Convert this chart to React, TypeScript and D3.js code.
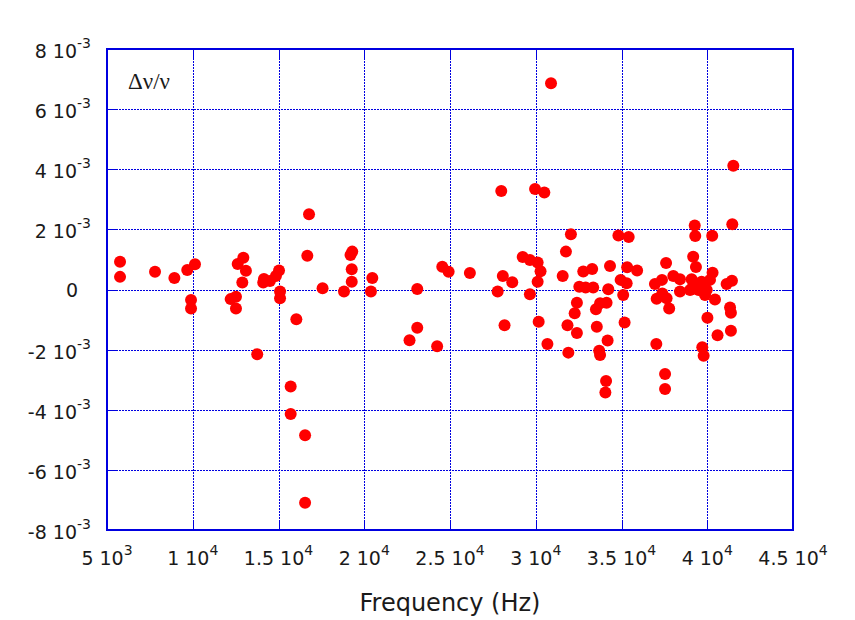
import React from "react";
import * as d3 from "d3";

const freqs: number[] = [
  5760, 5760, 7800, 8930, 9680, 10130, 9900, 9900, 12950, 12620,
  13100, 12890, 12210, 12520, 12520, 14150, 14110, 14500, 14850, 15030,
  15090, 15090, 16040, 16680, 16780, 13760, 15710, 15710, 16550, 16550,
  17570, 18820, 19200, 19300, 19270, 19270, 20470, 20390, 23090, 23090,
  22640, 24250, 24550, 24920, 26160, 28080, 28630, 27780, 29660, 28180,
  30170, 30680, 31850, 32400, 32270, 32400, 31900, 30890, 27990, 29960,
  30500, 32050, 31760, 29240, 29660, 30110, 30280, 30110, 31570, 32770,
  33290, 32540, 32910, 33350, 41520, 41460, 39270, 39300, 40290, 34820,
  35420, 39180, 39340, 37600, 34330, 35330, 35910, 34950, 35300, 34230,
  35100, 34130, 33750, 33510, 33560, 35180, 34190, 33700, 33750, 34100,
  34060, 37030, 37540, 37540, 36950, 37360, 37050, 37380, 37780, 38020,
  38410, 38410, 39090, 39180, 39670, 40160, 40310, 39000, 39490, 39970,
  39870, 40450, 40010, 40600, 39710, 39790, 41130, 41440, 41330, 41380,
  41380, 37630,
];

// values in units of 1e-3
const dnu: number[] = [
  0.92, 0.42, 0.59, 0.38, 0.65, 0.84, -0.35, -0.63, 1.06, 0.85,
  0.62, 0.23, -0.32, -0.24, -0.63, 0.35, 0.23, 0.28, 0.45, 0.63,
  -0.07, -0.29, -0.99, 1.12, 2.5, -2.15, -3.23, -4.14, -4.85, -7.09,
  0.04, -0.07, 1.15, 1.26, 0.67, 0.26, 0.38, -0.07, 0.02, -1.27,
  -1.69, -1.89, 0.76, 0.59, 0.55, 0.45, 0.24, -0.07, -0.16, -1.19,
  -1.07, -1.81, -1.19, -0.44, -0.79, -1.45, -2.1, 6.86, 3.28, 3.34,
  3.23, 1.84, 1.26, 1.08, 0.98, 0.9, 0.61, 0.26, 0.45, 0.6,
  0.68, 0.09, 0.07, 0.07, 4.12, 2.17, 2.13, 1.78, 1.79, 1.8,
  1.75, 1.09, 0.75, 0.88, 0.78, 0.74, 0.63, 0.32, 0.21, 0.01,
  -0.18, -0.44, -0.46, -0.66, -1.24, -1.1, -1.7, -2.04, -2.18, -3.04,
  -3.43, -1.81, -2.81, -3.31, 0.18, 0.32, -0.31, -0.13, -0.63, 0.45,
  0.34, -0.07, 0.34, 0.12, 0.26, 0.32, 0.56, -0.02, -0.02, -0.02,
  -0.18, -0.33, -0.94, -1.52, -1.92, -2.2, 0.18, 0.29, -0.6, -0.77,
  -1.37, -0.29,
];

const xTicks: number[] = [5000, 10000, 15000, 20000, 25000, 30000, 35000, 40000, 45000];
const xTickMant: string[] = ["5", "1", "1.5", "2", "2.5", "3", "3.5", "4", "4.5"];
const xTickExp: string[] = ["3", "4", "4", "4", "4", "4", "4", "4", "4"];
const yTicks: number[] = [-8, -6, -4, -2, 0, 2, 4, 6, 8];

const W = 855;
const H = 620;
const L = 107, R = 793, T = 49, B = 530;
const BLUE = "#0000e0";
const FONT = "'DejaVu Sans', sans-serif";

export default function App() {
  const x = d3.scaleLinear().domain([5000, 45000]).range([L, R]);
  const y = d3.scaleLinear().domain([-8, 8]).range([B, T]);
  const tickLen = 9;
  const px = (v: number) => Math.round(v) + 0.5;

  return (
    <svg width={W} height={H} style={{ position: "absolute", left: 0, top: 0, background: "#fff" }}>
      {/* grid */}
      <g shapeRendering="crispEdges">
        {xTicks.slice(1, -1).map((t) => (
          <line key={"gx" + t} x1={px(x(t))} x2={px(x(t))} y1={T} y2={B} stroke={BLUE} strokeWidth={1} strokeDasharray="2,1" />
        ))}
        {yTicks.slice(1, -1).map((t) => (
          <line key={"gy" + t} x1={L} x2={R} y1={px(y(t))} y2={px(y(t))} stroke={BLUE} strokeWidth={1} strokeDasharray="2,1" />
        ))}
        {/* ticks */}
        {xTicks.map((t) => (
          <g key={"tx" + t}>
            <line x1={px(x(t))} x2={px(x(t))} y1={B} y2={B - tickLen} stroke={BLUE} strokeWidth={1.5} />
            <line x1={px(x(t))} x2={px(x(t))} y1={T} y2={T + tickLen} stroke={BLUE} strokeWidth={1.5} />
          </g>
        ))}
        {yTicks.map((t) => (
          <g key={"ty" + t}>
            <line x1={L} x2={L + tickLen} y1={px(y(t))} y2={px(y(t))} stroke={BLUE} strokeWidth={1.5} />
            <line x1={R} x2={R - tickLen} y1={px(y(t))} y2={px(y(t))} stroke={BLUE} strokeWidth={1.5} />
          </g>
        ))}
        {/* frame */}
        <rect x={L} y={T} width={R - L} height={B - T} fill="none" stroke={BLUE} strokeWidth={2} />
      </g>
      {/* points */}
      {freqs.map((f, i) => (
        <circle key={"p" + i} cx={x(f)} cy={y(dnu[i])} r={6} fill="#ff0000" />
      ))}
      {/* x tick labels */}
      {xTicks.map((t, i) => (
        <text key={"lx" + t} x={x(t)} y={565} textAnchor="middle" fontFamily={FONT} fontSize={19} fill="#1a1a1a">
          {xTickMant[i] + " 10"}
          <tspan dy={-10} fontSize={14}>{xTickExp[i]}</tspan>
        </text>
      ))}
      {/* y tick labels */}
      {yTicks.map((t) =>
        t === 0 ? (
          <text key={"ly" + t} x={78} y={y(t) + 7} textAnchor="end" fontFamily={FONT} fontSize={19} fill="#1a1a1a">0</text>
        ) : (
          <text key={"ly" + t} x={91} y={y(t) + 9} textAnchor="end" fontFamily={FONT} fontSize={19} fill="#1a1a1a">
            {t + " 10"}
            <tspan dy={-10} fontSize={14}>-3</tspan>
          </text>
        )
      )}
      {/* axis title */}
      <text x={450} y={611} textAnchor="middle" fontFamily={FONT} fontSize={24} fill="#1a1a1a">Frequency (Hz)</text>
      {/* inner label */}
      <text x={128} y={89} fontFamily="'Liberation Serif', serif" fontSize={23} fill="#1a1a1a">Δν/ν</text>
    </svg>
  );
}
